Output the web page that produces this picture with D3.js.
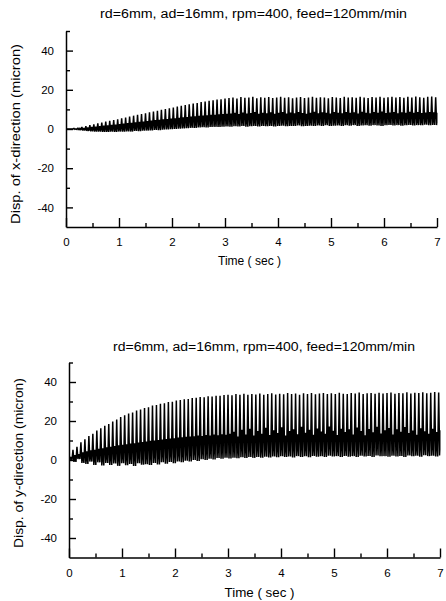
<!DOCTYPE html>
<html><head><meta charset="utf-8">
<script src="https://cdn.jsdelivr.net/npm/d3@7"></script>
<style>
body{margin:0;background:#fff;}
svg text{font-family:"Liberation Sans",Arial,Helvetica,sans-serif;fill:#000;}
</style></head><body>
<svg id="c" width="446" height="601"></svg>
<script>
// ---------- data ----------
const chartTitle = "rd=6mm, ad=16mm, rpm=400, feed=120mm/min";
const xAxisTitle = "Time ( sec )";
const yAxisTitles = ["Disp. of x-direction (micron)", "Disp. of y-direction (micron)"];
const xTickValues = [0, 1, 2, 3, 4, 5, 6, 7];
const xMinorTickValues = [0.5, 1.5, 2.5, 3.5, 4.5, 5.5, 6.5];
const yTickValues = [-40, -20, 0, 20, 40];
const yMinorTickValues = [-30, -10, 10, 30, 50];
const cyclePeriod = 0.075; // tooth-passing period (s): 400 rpm, 2 flutes

// x-direction: per tooth-passing cycle, peak / trough / secondary level (micron)
const xPeak = [0,0,0.3,0.6,1.0,1.5,2.0,2.4,2.9,3.3,3.8,4.2,4.6,5.0,5.4,5.9,6.3,6.8,7.2,7.6,8.0,
  8.5,8.9,9.3,9.8,10.2,10.6,11.0,11.4,11.8,12.2,
  12.6,13.0,13.3,13.7,14.0,14.4,14.7,15.0,15.2,15.5,
  15.8,16.1,15.6,16.3,15.9,16.0,16.4,15.7,16.2,15.9,
  16.3,15.8,16.1,16.4,15.9,16.2,15.7,16.0,16.3,15.8,
  16.1,16.4,15.9,16.2,16.0,15.7,16.3,16.1,15.8,16.4,
  16.0,16.2,15.9,16.5,16.1,15.8,16.3,16.0,16.4,15.9,
  16.2,16.5,16.0,16.3,15.9,16.4,16.1,16.6,16.2,15.9,
  16.4,16.6,16.2];
const xTrough = [0,0,-0.2,-0.5,-0.8,-1.0,-1.2,-1.3,-1.4,-1.5,-1.5,-1.4,-1.5,-1.3,-1.4,-1.2,-1.3,-1.0,-1.1,-0.9,-0.8,
  -0.7,-0.5,-0.6,-0.3,-0.2,-0.1,0.0,0.2,0.3,0.4,
  0.6,0.5,0.8,0.9,0.8,1.0,1.1,1.0,1.2,1.3,
  1.2,1.4,1.3,1.5,1.2,1.4,1.6,1.3,1.5,1.4,
  1.6,1.3,1.5,1.7,1.4,1.6,1.5,1.8,1.4,1.6,
  1.7,1.5,1.8,1.6,1.9,1.5,1.7,1.8,1.6,1.9,
  1.7,2.0,1.6,1.8,1.9,1.7,2.0,1.8,1.6,1.9,
  2.1,1.8,2.0,1.7,1.9,2.1,1.8,2.0,1.9,2.2,
  1.9,2.1,2.0];
const xBand = [0,0,0.1,0.3,0.5,0.8,1.0,1.2,1.5,1.7,1.9,2.1,2.3,2.5,2.7,3.0,3.2,3.4,3.6,3.8,4.0,
  4.3,4.5,4.7,4.9,5.1,5.3,5.5,5.7,5.9,6.1,
  6.3,6.5,6.7,6.8,7.0,7.2,7.3,7.5,7.6,7.8,
  7.9,8.2,7.6,8.4,7.9,8.1,8.6,7.8,8.3,8.0,
  8.5,7.7,8.2,8.6,7.9,8.4,8.0,8.7,8.1,7.8,
  8.3,8.8,8.0,8.5,8.2,7.9,8.6,8.3,8.0,8.7,
  8.2,8.5,7.9,8.8,8.3,8.0,8.6,8.2,8.9,8.1,
  8.4,8.7,8.0,8.5,8.2,8.8,8.3,8.6,8.1,8.4,
  8.7,8.5,8.2];

// y-direction
const yPeak = [3.0,5.2,6.8,9.1,10.6,12.3,13.4,15.1,16.3,17.6,18.4,19.7,20.8,22.1,22.9,23.9,24.4,25.4,25.9,26.7,27.1,
  27.9,28.2,28.9,29.1,29.7,29.9,30.5,30.7,31.2,31.3,
  31.8,31.9,32.3,32.2,32.7,32.6,33.0,32.9,33.3,33.4,
  33.2,33.8,33.5,34.0,33.4,33.9,33.6,34.1,33.5,33.9,
  34.2,33.6,34.0,33.7,34.3,33.8,34.1,33.5,34.2,33.9,
  34.4,33.7,34.1,34.3,33.8,34.2,33.9,34.5,34.0,33.8,
  34.3,34.1,34.6,33.9,34.2,34.4,34.0,34.5,34.1,34.3,
  34.6,34.0,34.4,34.2,34.7,34.1,34.5,34.3,34.8,34.2,
  34.5,34.9,34.6];
const yTrough = [0.0,-1.0,0.5,-1.5,-2.0,-0.8,-2.5,-1.2,-2.8,-1.5,-2.6,-1.8,-3.0,-1.6,-2.7,-2.0,-3.1,-1.7,-2.4,-2.2,-2.6,
  -1.5,-2.3,-1.2,-1.9,-1.0,-1.6,-0.7,-1.2,-0.4,-0.8,
  0.0,-0.5,0.4,0.0,0.7,0.3,1.0,0.6,1.2,0.8,
  1.2,0.9,1.4,1.0,1.5,1.1,1.6,1.2,1.7,1.3,
  1.8,1.4,1.9,1.5,1.8,1.3,2.0,1.6,1.9,1.4,
  2.1,1.7,1.9,1.5,2.2,1.8,2.0,1.6,2.1,1.7,
  2.0,1.5,2.2,1.8,2.1,1.6,2.3,1.9,2.0,1.7,
  2.2,1.8,2.1,1.6,2.3,1.9,2.2,1.7,2.4,2.0,
  2.2,1.8,2.3];
const yBand = [1.5,2.5,3.0,4.0,4.5,5.0,5.2,5.8,6.0,6.5,6.8,7.2,7.5,7.8,8.0,8.4,8.6,9.0,9.2,9.5,9.8,
  10.0,10.3,10.5,10.8,11.0,11.2,11.5,11.6,11.9,12.0,
  12.2,12.5,12.3,12.8,12.6,13.0,12.7,13.2,12.9,13.4,
  14.5,12.0,15.5,13.0,16.0,12.5,14.8,13.5,16.5,12.8,
  15.2,13.8,16.8,12.6,14.9,15.8,13.2,17.0,14.0,15.5,
  12.9,16.2,14.6,13.4,17.2,15.0,12.8,16.0,14.3,15.8,
  13.1,16.6,14.8,12.7,15.9,14.2,17.1,13.6,15.3,16.4,
  13.0,15.7,14.5,16.9,13.8,15.1,12.9,16.3,14.7,13.5,
  16.0,14.4,15.2];

// ---------- drawing ----------
const svg = d3.select("#c");

const panels = [
  {peak: xPeak, trough: xTrough, band: xBand, yTitle: yAxisTitles[0],
   x0: 66, x1: 437, yb: 227, yt: 31,
   titleX: 253.5, titleY: 17.5, titleLen: 307,
   xtX: 249.5, xtY: 265, xtLen: 63,
   ytX: 20, ytY: 134, ytLen: 180, id: "a"},
  {peak: yPeak, trough: yTrough, band: yBand, yTitle: yAxisTitles[1],
   x0: 69, x1: 440, yb: 557.5, yt: 362.5,
   titleX: 264, titleY: 350.5, titleLen: 302,
   xtX: 259.5, xtY: 596.5, xtLen: 70,
   ytX: 23, ytY: 463, ytLen: 170, id: "b"}
];

panels.forEach(p => {
  const g = svg.append("g");
  const x = d3.scaleLinear().domain([0, 7]).range([p.x0, p.x1]);
  const y = d3.scaleLinear().domain([-50, 50]).range([p.yb, p.yt]);

  svg.append("clipPath").attr("id", "clip-" + p.id)
    .append("rect").attr("x", p.x0).attr("y", p.yt).attr("width", p.x1 - p.x0 + 0.5).attr("height", p.yb - p.yt);

  const T = cyclePeriod;
  const pts = [];
  p.peak.forEach((v, i) => {
    const t = i * T;
    pts.push([t, v], [t + T / 4, p.trough[i]], [t + T / 2, p.band[i]], [t + 3 * T / 4, p.trough[i]]);
  });
  g.append("path").datum(pts)
    .attr("clip-path", `url(#clip-${p.id})`)
    .attr("d", d3.line().x(d => x(d[0])).y(d => y(d[1])))
    .attr("fill", "none").attr("stroke", "#000").attr("stroke-width", 1.5)
    .attr("stroke-linejoin", "miter").attr("stroke-miterlimit", 2);

  // y axis
  g.append("g").attr("transform", `translate(${p.x0},0)`)
    .call(d3.axisLeft(y).tickValues(yTickValues).tickSize(-7).tickSizeOuter(0).tickPadding(12).tickFormat(d => String(d)));
  g.append("g").attr("transform", `translate(${p.x0},0)`)
    .call(d3.axisLeft(y).tickValues(yMinorTickValues).tickSize(-4).tickFormat(""))
    .call(s => s.select(".domain").remove());
  // x axis
  g.append("g").attr("transform", `translate(0,${p.yb})`)
    .call(d3.axisBottom(x).tickValues(xTickValues).tickSize(-9).tickSizeOuter(0).tickPadding(11).tickFormat(d => String(d)));
  g.append("g").attr("transform", `translate(0,${p.yb})`)
    .call(d3.axisBottom(x).tickValues(xMinorTickValues).tickSize(-4).tickFormat(""))
    .call(s => s.select(".domain").remove());

  g.selectAll(".domain").attr("stroke", "#000").attr("stroke-width", 1.5);
  g.selectAll(".tick line").attr("stroke", "#000").attr("stroke-width", 1.4);
  g.selectAll(".tick text").attr("font-size", 11.5).attr("fill", "#000")
    .attr("font-family", '"Liberation Sans", Arial, sans-serif');

  // titles
  svg.append("text").attr("x", p.titleX).attr("y", p.titleY).attr("text-anchor", "middle")
    .attr("font-size", 12).attr("textLength", p.titleLen).attr("lengthAdjust", "spacingAndGlyphs")
    .text(chartTitle);
  svg.append("text").attr("x", p.xtX).attr("y", p.xtY).attr("text-anchor", "middle")
    .attr("font-size", 12.5).attr("textLength", p.xtLen).attr("lengthAdjust", "spacingAndGlyphs")
    .text(xAxisTitle);
  svg.append("text").attr("transform", `translate(${p.ytX},${p.ytY}) rotate(-90)`).attr("text-anchor", "middle")
    .attr("font-size", 12.5).attr("textLength", p.ytLen).attr("lengthAdjust", "spacingAndGlyphs")
    .text(p.yTitle);
});
</script>
</body></html>
